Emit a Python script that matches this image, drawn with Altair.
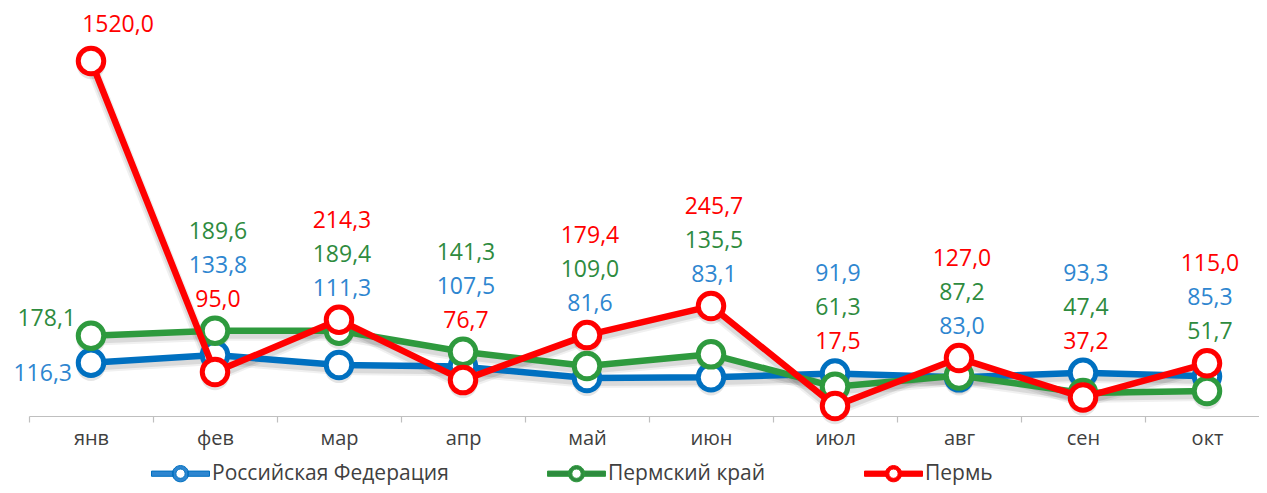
import altair as alt
import pandas as pd

months = ["янв", "фев", "мар", "апр", "май", "июн", "июл", "авг", "сен", "окт"]
series = ["Российская Федерация", "Пермский край", "Пермь"]
rf_values = [116.3, 133.8, 111.3, 107.5, 81.6, 83.1, 91.9, 83.0, 93.3, 85.3]
pk_values = [178.1, 189.6, 189.4, 141.3, 109.0, 135.5, 61.3, 87.2, 47.4, 51.7]
perm_values = [1520.0, 95.0, 214.3, 76.7, 179.4, 245.7, 17.5, 127.0, 37.2, 115.0]

line_colors = ["#0070C0", "#2E9A3E", "#FF0000"]
label_colors = ["#2E86D0", "#2E8B3E", "#FF0000"]

rows = []
for s, vals in zip(series, [rf_values, pk_values, perm_values]):
    for m, v in zip(months, vals):
        rows.append({"month": m, "series": s, "value": v})
df = pd.DataFrame(rows)
df["anchor"] = df.groupby("month")["value"].transform("max")
df["rank"] = df.groupby("month")["value"].rank(method="first").astype(int) - 1
df["place"] = "stack"
df.loc[df["month"] == months[0], "place"] = "first"

FONT = "Open Sans"

x_enc = alt.X(
    "month:N",
    sort=months,
    scale=alt.Scale(type="band", paddingInner=0, paddingOuter=0, range=[0, 1240]),
    axis=alt.Axis(
        title=None, labelAngle=0, tickBand="extent", domainColor="#BFBFBF",
        tickColor="#BFBFBF", tickSize=6, labelFont=FONT, labelFontSize=20,
        labelColor="#404040", labelPadding=6, domainWidth=1.2, tickWidth=1.2,
    ),
)
y_range = [405.7, 274.3, 53]
y_scale = alt.Scale(domain=[0, 300, 1520], range=y_range, nice=False, zero=False)
y_shadow = alt.Scale(domain=[0, 300, 1520], range=[r + 4 for r in y_range], nice=False, zero=False)

# legend glyph: two bars + a ring (inner circle wound the opposite way leaves a hole)
legend_glyph = (
    "M-1,-0.09H-0.25V0.09H-1Z"
    "M0.25,-0.09H1V0.09H0.25Z"
    "M0.28,0A0.28,0.28,0,1,1,-0.28,0A0.28,0.28,0,1,1,0.28,0Z"
    "M0.16,0A0.16,0.16,0,1,0,-0.16,0A0.16,0.16,0,1,0,0.16,0Z"
)

legend = alt.Legend(
    title=None, orient="none", legendX=122, legendY=436, direction="horizontal",
    columns=3, columnPadding=96, labelLimit=0,
    symbolType=legend_glyph, symbolSize=3364, symbolStrokeWidth=1,
    labelFont=FONT, labelFontSize=21, labelColor="#404040", labelOffset=2,
)
color_scale = alt.Scale(domain=series, range=line_colors)
stroke_leg = alt.Stroke("series:N", scale=color_scale, legend=legend)
fill_enc = alt.Fill("series:N", scale=alt.Scale(domain=series, range=label_colors), legend=None)

base = alt.Chart(df).transform_calculate(
    label="replace(format(datum.value, '.1f'), '.', ',')"
)

layers = []
# soft drop shadows
for s in series:
    sub = base.transform_filter(alt.datum.series == s)
    for w, op in [(12, 0.06), (8, 0.09)]:
        layers.append(
            sub.mark_line(strokeWidth=w, color="#000000", opacity=op, strokeJoin="round").encode(
                x=x_enc, y=alt.Y("value:Q", scale=y_shadow, axis=None)
            )
        )
    layers.append(
        sub.mark_point(shape="circle", filled=True, color="#000000", opacity=0.1, size=800).encode(
            x=x_enc, y=alt.Y("value:Q", scale=y_shadow, axis=None)
        )
    )

for s, c in zip(series, line_colors):
    sub = base.transform_filter(alt.datum.series == s)
    layers.append(
        sub.mark_line(strokeWidth=6.5, strokeJoin="round", color=c).encode(
            x=x_enc, y=alt.Y("value:Q", scale=y_scale, axis=None),
        )
    )
    layers.append(
        sub.mark_point(shape="circle", filled=False, fill="white", fillOpacity=1,
                       opacity=1, size=650, strokeWidth=5).encode(
            x=x_enc, y=alt.Y("value:Q", scale=y_scale, axis=None), stroke=stroke_leg,
        )
    )

for r, dy in zip([0, 1, 2], [-31, -65, -99]):
    layers.append(
        base.transform_filter(f"datum.place == 'stack' && datum.rank == {r}")
        .mark_text(dy=dy, dx=3, font=FONT, fontSize=23, baseline="middle", align="center")
        .encode(x=x_enc, y=alt.Y("anchor:Q", scale=y_scale, axis=None), text="label:N", fill=fill_enc)
    )

first_specs = [(series[2], "center", 27, -36), (series[1], "right", -15, -17), (series[0], "right", -19, 11)]
for s, al, dx, dy in first_specs:
    layers.append(
        base.transform_filter(f"datum.place == 'first' && datum.series == '{s}'")
        .mark_text(dx=dx, dy=dy, font=FONT, fontSize=23, baseline="middle", align=al)
        .encode(x=x_enc, y=alt.Y("value:Q", scale=y_scale, axis=None), text="label:N", fill=fill_enc)
    )

chart = alt.layer(*layers).resolve_scale(y="independent").properties(
    width=1230, height=408,
    autosize=alt.AutoSizeParams(type="none"),
    padding={"left": 21, "top": 0, "right": 0, "bottom": 69},
    background="white",
).configure_view(stroke=None)

chart.save("out.html", embed_options={"renderer": "svg", "actions": False})
